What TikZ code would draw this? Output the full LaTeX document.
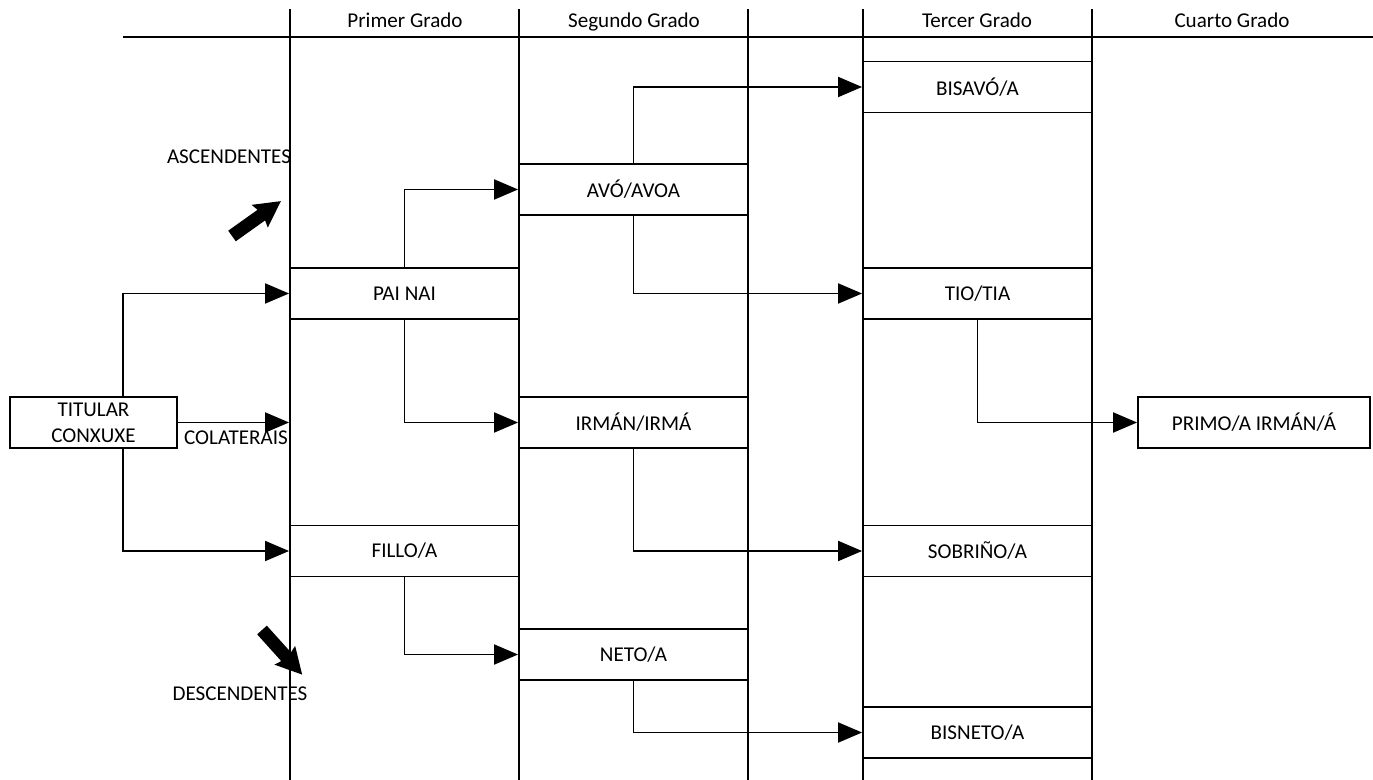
\documentclass[tikz,border=0pt]{standalone}
\usepackage{fontspec}
\setmainfont{Carlito}
\usetikzlibrary{arrows.meta, positioning}

\begin{document}
\begin{tikzpicture}[x=0.02cm, y=-0.02cm, line width=1.1pt,
    >={Triangle[length=0.48cm, width=0.4cm]},
    every node/.style={font=\fontsize{12pt}{15pt}\selectfont},
    cabeceira/.style={text height=1.6ex, text depth=0.5ex},
    grado/.style={draw, minimum width=4.58cm, minimum height=1.02cm, inner sep=0pt},
    caixa/.style={draw, minimum height=1.02cm, inner sep=0pt},
    bloque/.style={fill=black}]
        \useasboundingbox (0,0) rectangle (1373,780);
        \draw (123,37) -- (1373,37);
        \foreach \x in {290, 519, 748, 863, 1092}
            \draw (\x,9) -- (\x,780);
        \node [cabeceira] (primer) at (405,23) {Primer Grado};
        \node [cabeceira] (segundo) at (634,23) {Segundo Grado};
        \node [cabeceira] (tercer) at (977,23) {Tercer Grado};
        \node [cabeceira] (cuarto) at (1232,23) {Cuarto Grado};
        \node [caixa, minimum width=3.34cm, align=center] (titular) at (93.5,422.5) {TITULAR\\CONXUXE};
        \node [grado] (pai) at (404.5,293.5) {PAI NAI};
        \node [grado] (fillo) at (404.5,551) {FILLO/A};
        \node [grado] (avo) at (633.5,189.5) {AVÓ/AVOA};
        \node [grado] (irman) at (633.5,422.5) {IRMÁN/IRMÁ};
        \node [grado] (neto) at (633.5,654.5) {NETO/A};
        \node [grado] (bisavo) at (977.5,87) {BISAVÓ/A};
        \node [grado] (tio) at (977.5,293.5) {TIO/TIA};
        \node [grado] (sobrino) at (977.5,551) {SOBRIÑO/A};
        \node [grado] (bisneto) at (977.5,732.5) {BISNETO/A};
        \node [caixa, minimum width=4.64cm] (primo) at (1254,422.5) {PRIMO/A IRMÁN/Á};
        \node (ascend) at (229,157) {ASCENDENTES};
        \node (colat) at (236,438) {COLATERAIS};
        \node (descend) at (240,694) {DESCENDENTES};
        \coordinate (tn) at (123,397);
        \coordinate (ts) at (123,448);
        \draw [->] (tn) |- (pai.west);
        \draw [->] (ts) |- (fillo.west);
        \draw [->] (titular.east) -- (titular.east -| pai.west);
        \draw [->] (pai.north) |- (avo.west);
        \draw [->] (pai.south) |- (irman.west);
        \draw [->] (fillo.south) |- (neto.west);
        \draw [->] (avo.north) |- (bisavo.west);
        \draw [->] (avo.south) |- (tio.west);
        \draw [->] (irman.south) |- (sobrino.west);
        \draw [->] (neto.south) |- (bisneto.west);
        \draw [->] (tio.south) |- (primo.west);
        \fill [bloque, shift={(232,236)}, rotate=35.5]
            (0,-6.5) -- (36,-6.5) -- (34,-14) -- (60,0) -- (34,14) -- (36,6.5) -- (0,6.5) -- cycle;
        \fill [bloque, shift={(262,630)}, rotate=-48]
            (0,-6.5) -- (36,-6.5) -- (34,-14) -- (60,0) -- (34,14) -- (36,6.5) -- (0,6.5) -- cycle;
\end{tikzpicture}
\end{document}
